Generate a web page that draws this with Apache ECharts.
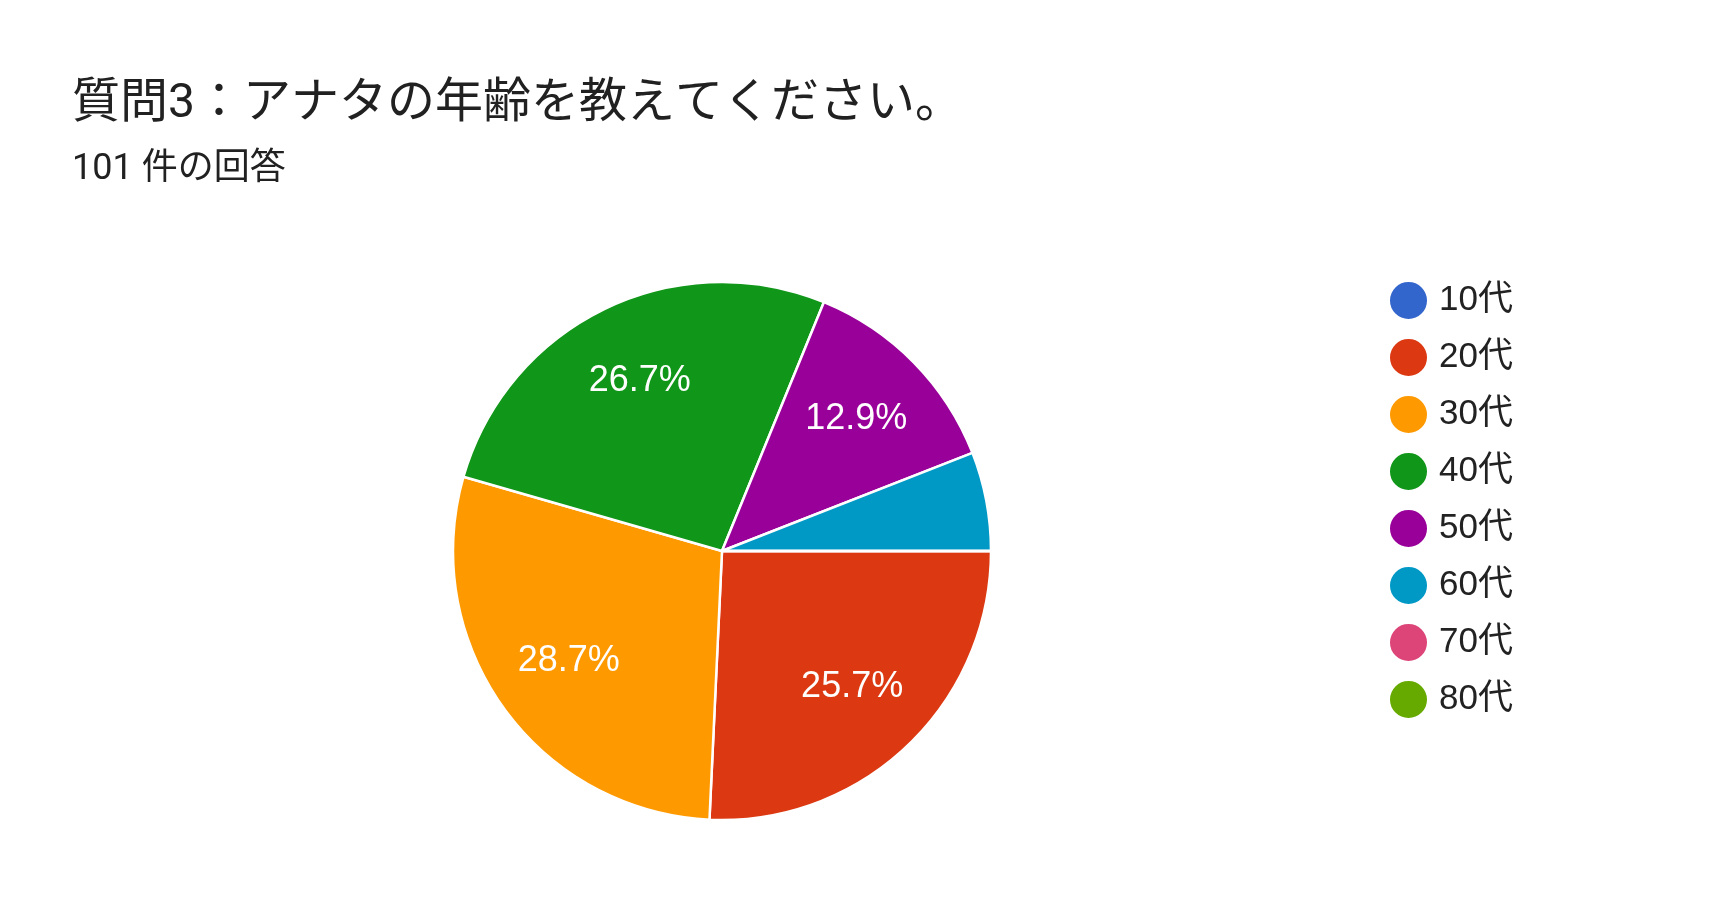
<!DOCTYPE html>
<html>
<head>
<meta charset="utf-8">
<script src="https://cdn.jsdelivr.net/npm/echarts@6/dist/echarts.min.js"></script>
<style>
html,body{margin:0;padding:0;background:#fff;}
#chart{width:1717px;height:922px;}
</style>
</head>
<body>
<div id="chart"></div>
<script>
const titleText = '質問3：アナタの年齢を教えてください。';
const subtitleText = '101 件の回答';
const categories = ['10代','20代','30代','40代','50代','60代','70代','80代'];
const counts = [0, 26, 29, 27, 13, 6, 0, 0];
const colors = ['#3366cc','#dc3912','#ff9900','#109618','#990099','#0099c6','#dd4477','#66aa00'];

const data = categories.map((c, i) => ({ name: c, value: counts[i], itemStyle: { color: colors[i] } }));
const labelData = categories.map((c, i) => ({ name: c, value: counts[i] }));

const chart = echarts.init(document.getElementById('chart'));
const latin = 'Arial, "Liberation Sans", "Noto Sans CJK JP", sans-serif';
chart.setOption({
  animation: false,
  backgroundColor: '#ffffff',
  title: [
    { text: titleText, left: 67, top: 76,
      textStyle: { fontSize: 48, fontWeight: 'normal', color: '#212121', fontFamily: 'Roboto, "Noto Sans CJK JP", sans-serif' } },
    { text: subtitleText, left: 67, top: 147,
      textStyle: { fontSize: 36, fontWeight: 'normal', color: '#212121', fontFamily: 'Roboto, "Noto Sans CJK JP", sans-serif' } }
  ],
  legend: {
    orient: 'vertical', left: 1383, top: 275,
    icon: 'circle', itemWidth: 39, itemHeight: 39, itemGap: 16,
    data: categories,
    textStyle: { fontSize: 35, color: '#222222', fontFamily: latin, padding: [0, 0, 0, 6] }
  },
  series: [
    {
      type: 'pie', center: [722, 551], radius: [0, 269],
      startAngle: 0, clockwise: true,
      itemStyle: { borderColor: '#ffffff', borderWidth: 2.5 },
      label: { show: false }, labelLine: { show: false },
      emphasis: { disabled: true },
      data: data
    },
    {
      type: 'pie', center: [722, 551], radius: [102, 269],
      startAngle: 0, clockwise: true, silent: true,
      itemStyle: { color: 'rgba(0,0,0,0)', borderWidth: 0 },
      label: {
        show: true, position: 'inside', color: '#ffffff', fontSize: 36, fontFamily: latin,
        formatter: p => p.percent < 8 ? '' : p.percent.toFixed(1) + '%'
      },
      labelLine: { show: false },
      emphasis: { disabled: true },
      data: labelData
    }
  ]
});
</script>
</body>
</html>
